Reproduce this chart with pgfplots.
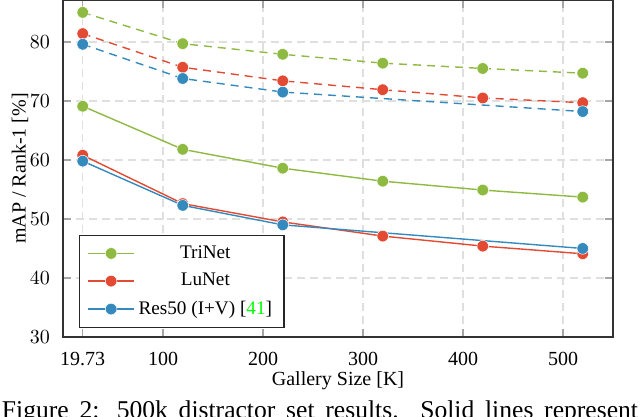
\documentclass[border=0pt]{standalone}
\usepackage{pgfplots}
\pgfplotsset{compat=1.18}
\usepackage{fontspec}
\setmainfont{Liberation Serif}
\definecolor{cG}{HTML}{8EBA42}
\definecolor{cR}{HTML}{E24A33}
\definecolor{cB}{HTML}{348ABD}
\pgfplotsset{ser/.style={color=#1, line width=0.7pt, mark=*, mark size=2.9pt, mark options={solid, fill=#1, draw=white, line width=0.25pt}}}
\begin{document}
\begin{tikzpicture}
\begin{axis}[
 at={(0,0)}, anchor=south west,
 scale only axis, width=275pt, height=168.5pt,
 xmin=0, xmax=550, ymin=30, ymax=87.1,
 xtick={19.73,100,200,300,400,500},
 xticklabels={19.73,100,200,300,400,500},
 ytick={30,40,50,60,70,80},
 grid=major,
 major grid style={gray!25, dash pattern=on 4pt off 2.5pt, line width=0.6pt},
 tick style={gray!70, line width=0.7pt},
 major tick length=4pt,
 tick align=inside,
 axis line style={black!80, line width=0.8pt},
 xticklabel shift=4pt, yticklabel shift=3pt,
 label style={font=\fontsize{8.6}{10}\selectfont},
 xlabel={Gallery Size [K]}, ylabel={mAP / Rank-1 [\%]},
 every axis x label/.style={at={(axis description cs:0.5,0)}, anchor=base, yshift=-24pt},
 every axis y label/.style={at={(axis description cs:-0.078,0.5)}, rotate=90, anchor=center},
 legend style={at={(0.029,0.027)}, anchor=south west, font=\fontsize{9.6}{11}\selectfont, draw=black!85, line width=0.7pt, row sep=2pt, inner xsep=4pt, inner ysep=3pt},
 legend cell align=center,
 legend image code/.code={\draw[mark repeat=2,mark phase=2, line width=0.7pt] plot coordinates {(0cm,0cm) (0.4cm,0cm) (0.8cm,0cm)};},
]
\addplot[ser=cG, dash pattern=on 4pt off 3pt, forget plot] coordinates {(19.73,85.0)(119.73,79.7)(219.73,77.9)(319.73,76.4)(419.73,75.5)(519.73,74.7)};
\addplot[ser=cR, dash pattern=on 4pt off 3pt, forget plot] coordinates {(19.73,81.4)(119.73,75.7)(219.73,73.4)(319.73,71.9)(419.73,70.5)(519.73,69.7)};
\addplot[ser=cB, dash pattern=on 4pt off 3pt, forget plot] coordinates {(19.73,79.6)(119.73,73.8)(219.73,71.5)(519.73,68.2)};
\addplot[ser=cG] coordinates {(19.73,69.1)(119.73,61.8)(219.73,58.6)(319.73,56.4)(419.73,54.9)(519.73,53.7)};
\addlegendentry{TriNet}
\addplot[ser=cR] coordinates {(19.73,60.8)(119.73,52.6)(219.73,49.5)(319.73,47.1)(419.73,45.4)(519.73,44.1)};
\addlegendentry{LuNet}
\addplot[ser=cB] coordinates {(19.73,59.8)(119.73,52.3)(219.73,49.0)(519.73,45.0)};
\addlegendentry{Res50 (I+V) [\textcolor{green}{41}]}
\end{axis}
\pgfresetboundingbox
\path[use as bounding box] (-31.5pt,-39.5pt) rectangle (288.5pt,168.5pt);
\node[anchor=base west, inner sep=0, font=\fontsize{12.8}{14}\selectfont] at (-30.7pt,-40.9pt) {\makebox[318pt][s]{Figure 2: 500k distractor set results. Solid lines represent}};
\end{tikzpicture}
\end{document}
